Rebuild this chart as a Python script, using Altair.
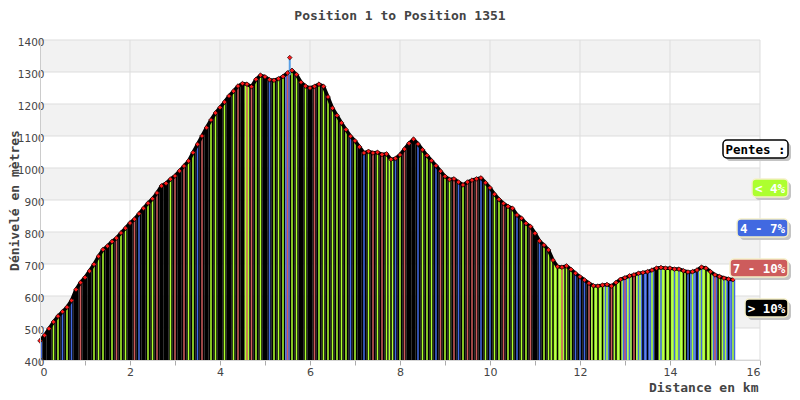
import altair as alt
import pandas as pd

# ---- data ----
elev = [
    460, 477, 498, 519, 537, 551, 565, 586, 620, 642,
    658, 678, 699, 724, 745, 756, 770, 781, 797, 812,
    828, 840, 857, 874, 890, 904, 922, 944, 952, 965,
    975, 991, 1006, 1022, 1048, 1074, 1100, 1126, 1150, 1172,
    1189, 1206, 1225, 1240, 1256, 1264, 1262, 1254, 1277, 1290,
    1285, 1276, 1274, 1279, 1286, 1297, 1305, 1292, 1268, 1256,
    1250, 1255, 1262, 1255, 1222, 1187, 1164, 1141, 1120, 1099,
    1085, 1066, 1047, 1052, 1047, 1049, 1042, 1044, 1027, 1030,
    1041, 1059, 1077, 1090, 1075, 1057, 1039, 1023, 1007, 990,
    974, 964, 966, 956, 947, 956, 962, 966, 969, 954,
    938, 918, 902, 889, 880, 874, 853, 843, 827, 817,
    796, 772, 759, 744, 712, 692, 690, 694, 683, 671,
    660, 650, 640, 632, 631, 634, 636, 631, 642, 652,
    657, 663, 666, 671, 673, 676, 681, 687, 689, 687,
    687, 684, 684, 679, 675, 676, 681, 690, 687, 676,
    666, 661, 656, 653, 651,
]
km_step = 0.1
km = [round(i * km_step, 1) for i in range(len(elev))]

# slope class of each 0.1 km slice: G "< 4%", B "4 - 7%", R "7 - 10%", K "> 10%"
# dominant colour of the slice
base_cat = list(
    "BKKKKKKKKK"
    "KKKKKKKKKK"
    "KKKKKKKKKK"
    "KKKKKKKKKK"
    "KKKKKKGKKK"
    "KKKKKBKKKK"
    "KKKKKKKKKK"
    "KKKKKKKKGK"
    "KKKKKKKKKK"
    "KKKKKKKKKK"
    "KKKKKKKKKK"
    "KKKKGGGKKK"
    "KKKGGGBKGG"
    "BGKGBBBKGG"
    "GGGGKBBGGG"
    "BKGBB"
)
# thin secondary stripe inside the slice
stripe_cat = list(
    "BKKGGBGBKR"
    "KKGGGKGRGG"
    "KRBKGGRKKG"
    "RKRGGBRKGG"
    "KGKGRKRRGG"
    "KBGGGRGGKG"
    "KRGGGGGGGB"
    "GKBGRGRGKB"
    "GRKKBGGGBR"
    "GGRBGRRRBG"
    "BGGRGGBGGR"
    "KBGGKKRGGB"
    "BBRKKKGRKK"
    "RBRBKKGKBK"
    "KBBKBGKBKK"
    "RGBKG"
)

spike_km = [5.55]
spike_elev = [1345]

cat_codes = ["G", "B", "R", "K"]
cat_labels = ["< 4%", "4 - 7%", "7 - 10%", "> 10%"]
cat_colors = ["#adff2f", "#4169e1", "#cd5c5c", "#000000"]

band_lo = [500, 700, 900, 1100, 1300]
y_ticks = list(range(400, 1401, 100))
x_ticks = list(range(0, 17))
v_grid = [2, 4, 6, 8, 10, 12, 14, 16]

# ---- frames ----
df = pd.DataFrame({"km": km, "elev": elev, "base": base_cat, "stripe": stripe_cat})
df["x0"] = df["km"] - km_step / 2
df["x1"] = df["km"] + km_step / 2
df["s0"] = df["km"] - km_step * 0.17
df["s1"] = df["km"] + km_step * 0.17
spike = pd.DataFrame({"km": spike_km, "elev": spike_elev})
bands = pd.DataFrame({"lo": band_lo})
bands["hi"] = bands["lo"] + 100
hgrid = pd.DataFrame({"v": y_ticks})
vgrid = pd.DataFrame({"v": v_grid})

W, H = 720, 320
MONO = "DejaVu Sans Mono"

x_scale = alt.Scale(domain=[0, 16], nice=False)
y_scale = alt.Scale(domain=[400, 1400], nice=False, zero=False)
c_scale = alt.Scale(domain=cat_codes, range=cat_colors)

x_axis = alt.Axis(
    values=x_ticks, grid=False,
    labelExpr="datum.value % 2 === 0 ? datum.label : ''",
    labelFont="DejaVu Sans", labelFontSize=11, labelColor="#444",
    tickColor="#aaa", tickSize=5, labelPadding=1, domainColor="#ccc",
    title="Distance en km", titleFont=MONO, titleFontSize=13,
    titleFontWeight="bold", titleColor="#444",
    titleAnchor="end", titleAlign="right", titleX=718, titleY=31,
    titleBaseline="alphabetic",
)
y_axis = alt.Axis(
    values=y_ticks, grid=False, ticks=False, format="d", zindex=1,
    labelFont="DejaVu Sans", labelFontSize=10.5, labelColor="#444",
    labelPadding=-4, labelOffset=2, domainColor="#ccc",
    title="Dénivelé en mètres", titleFont=MONO, titleFontSize=13,
    titleFontWeight="bold", titleColor="#444",
    titleX=-22, titleY=H / 2, titleBaseline="alphabetic", titleAngle=-90,
)

X = lambda f: alt.X(f, scale=x_scale, axis=x_axis)
Y = lambda f: alt.Y(f, scale=y_scale, axis=y_axis)

band_layer = alt.Chart(bands).mark_rect(color="#f2f2f2").encode(
    y=Y("lo:Q"), y2="hi:Q", x=alt.value(0), x2=alt.value(W)
)
hgrid_layer = alt.Chart(hgrid).mark_rule(color="#dddddd", strokeWidth=1).encode(
    y=Y("v:Q"), x=alt.value(0), x2=alt.value(W)
)
vgrid_layer = alt.Chart(vgrid).mark_rule(color="#dddddd", strokeWidth=1).encode(
    x=X("v:Q"), y=alt.value(0), y2=alt.value(H)
)
bars = alt.Chart(df).mark_rect(clip=True).encode(
    x=X("x0:Q"), x2="x1:Q",
    y=Y("elev:Q"), y2=alt.datum(400),
    color=alt.Color("base:N", scale=c_scale, legend=None),
)
stripes = alt.Chart(df).mark_rect(clip=True).encode(
    x=X("s0:Q"), x2="s1:Q",
    y=Y("elev:Q"), y2=alt.datum(400),
    color=alt.Color("stripe:N", scale=c_scale, legend=None),
)
line = alt.Chart(df).mark_line(color="black", strokeWidth=3.5).encode(
    x=X("km:Q"), y=Y("elev:Q")
)
spike_rule = alt.Chart(spike).mark_rule(color="#5aa0e6", strokeWidth=2).encode(
    x=X("km:Q"), y=Y("elev:Q"), y2=alt.datum(1290)
)
pts = alt.Chart(pd.concat([df[["km", "elev"]], spike])).mark_point(
    shape="diamond", filled=True, fill="#ff1a1a", stroke="black",
    strokeWidth=0.6, size=22, opacity=1
).encode(x=X("km:Q"), y=Y("elev:Q"))

# ---- legend boxes (drawn at the right edge) ----
legend_items = [("Pentes :", "#ffffff", "#000000", "#000000", 683, 109)]
lefts = [712, 697, 690, 705]
cys = [148, 188, 228, 268]
for lab, col, lx, cy in zip(cat_labels, cat_colors, lefts, cys):
    legend_items.append((lab, col, "#ffffff", "#f5f0c8", lx, cy))

legend_layers = []
RIGHT = 748
for lab, fill, tcol, scol, lx, cy in legend_items:
    d = pd.DataFrame({"t": [lab]})
    shadow = alt.Chart(d).mark_rect(color="#c4c4c4", cornerRadius=4).encode(
        x=alt.value(lx + 3), x2=alt.value(RIGHT + 3),
        y=alt.value(cy - 9 + 3), y2=alt.value(cy + 9 + 3),
    )
    box = alt.Chart(d).mark_rect(fill=fill, stroke=scol, strokeWidth=1.5, cornerRadius=4).encode(
        x=alt.value(lx), x2=alt.value(RIGHT),
        y=alt.value(cy - 9), y2=alt.value(cy + 9),
    )
    txt = alt.Chart(d).mark_text(
        font=MONO, fontSize=12.5, fontWeight="bold", color=tcol,
        align="center", baseline="middle"
    ).encode(text="t:N", x=alt.value((lx + RIGHT) / 2), y=alt.value(cy + 1))
    legend_layers += [shadow, box, txt]

chart = alt.layer(
    band_layer, hgrid_layer, vgrid_layer, bars, stripes, line, spike_rule, pts, *legend_layers
).properties(
    width=W, height=H,
    title=alt.TitleParams(
        "Position 1 to Position 1351", font=MONO, fontSize=13, fontWeight="bold",
        color="#444", anchor="middle", frame="group", offset=14,
    ),
    autosize=alt.AutoSizeParams(type="none"),
    padding={"left": 32, "top": 32, "right": 32, "bottom": 36},
).configure_view(stroke=None)

chart.save("out.html", embed_options={"renderer": "svg", "actions": False})
